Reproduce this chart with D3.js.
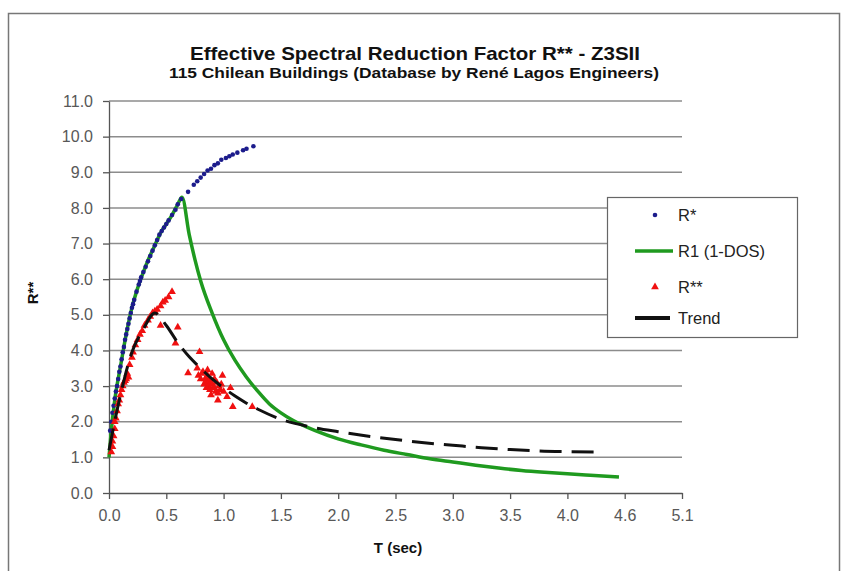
<!DOCTYPE html>
<html>
<head>
<meta charset="utf-8">
<title>Effective Spectral Reduction Factor</title>
<style>
body { margin: 0; background: #fff; font-family: "Liberation Sans", Arial, sans-serif; }
.grid line { stroke: #8c8c8c; stroke-width: 1.5px; }
.axis path, .axis line { stroke: #555; stroke-width: 1.3px; }
.axis text { fill: #585858; font-size: 16px; font-family: "Liberation Sans", Arial, sans-serif; }
</style>
</head>
<body>
<script src="https://cdn.jsdelivr.net/npm/d3@7"></script>
<script>
'use strict';

// R* (blue dots)
const rStarT = [0.01,0.02,0.03,0.04,0.05,0.06,0.07,0.08,0.09,0.10,0.11,0.12,0.13,0.14,0.15,0.16,0.17,0.18,0.19,0.20,
  0.21,0.22,0.24,0.26,0.27,0.28,0.30,0.32,0.34,0.36,0.38,0.40,0.42,0.44,0.46,0.48,0.50,0.52,0.55,0.58,
  0.60,0.63,0.69,0.74,0.77,0.80,0.83,0.86,0.89,0.92,0.95,0.98,1.02,1.05,1.08,1.12,1.17,1.20,1.26];
const rStarV = [1.75,2.0,2.25,2.45,2.65,2.85,3.0,3.2,3.4,3.55,3.75,3.95,4.1,4.3,4.45,4.6,4.75,4.9,5.05,5.2,
  5.3,5.42,5.65,5.85,5.95,6.05,6.2,6.35,6.5,6.65,6.8,6.95,7.1,7.25,7.35,7.45,7.55,7.65,7.8,7.95,
  8.1,8.25,8.45,8.65,8.75,8.85,8.95,9.05,9.1,9.2,9.25,9.35,9.4,9.45,9.5,9.55,9.62,9.66,9.73];

// R1 (1-DOS) (green line)
const r1T = [0,0.02,0.05,0.1,0.15,0.2,0.25,0.3,0.35,0.4,0.45,0.5,0.55,0.6,0.637,
  0.7,0.75,0.8,0.9,1.0,1.1,1.2,1.3,1.4,1.5,1.6,1.8,2.0,2.2,2.4,2.6,2.8,3.0,3.2,3.4,3.6,3.8,4.0,4.2,4.45];
const r1V = [1.0,1.75,2.6,3.55,4.45,5.2,5.75,6.2,6.6,6.95,7.3,7.55,7.8,8.1,8.3,
  7.25,6.55,5.95,5.05,4.3,3.72,3.25,2.85,2.5,2.25,2.05,1.75,1.52,1.35,1.2,1.08,0.96,0.87,0.78,0.7,0.63,0.58,0.54,0.5,0.45];

// R** (red triangles)
const r2T = [0.02,0.03,0.03,0.04,0.05,0.05,0.06,0.07,0.08,0.09,0.10,0.11,0.12,0.13,0.14,0.15,0.16,0.17,0.18,0.20,0.21,0.23,
  0.25,0.27,0.29,0.31,0.34,0.36,0.38,0.40,0.42,0.45,0.47,0.49,0.52,0.55,0.45,0.58,0.60,0.69,0.77,0.79,
  0.78,0.80,0.81,0.82,0.83,0.84,0.84,0.85,0.85,0.86,0.86,0.87,0.88,0.88,0.89,0.89,0.90,0.90,0.91,0.92,0.92,
  0.93,0.94,0.95,0.95,0.96,0.97,0.98,0.99,1.00,1.03,1.06,1.08,1.25];
const r2V = [1.15,1.3,1.45,1.6,1.8,2.0,2.1,2.3,2.5,2.6,2.75,2.9,3.0,3.1,3.15,3.2,3.35,3.25,3.6,3.8,3.95,4.15,
  4.3,4.45,4.55,4.7,4.85,4.95,5.05,5.1,5.15,5.25,5.35,5.4,5.5,5.65,4.7,4.2,4.65,3.37,3.5,3.96,
  3.3,3.2,3.35,3.4,3.05,3.1,3.2,3.25,2.95,3.45,3.3,3.0,3.15,2.9,3.1,2.75,3.05,3.35,2.95,3.2,2.95,
  2.85,3.1,2.6,2.8,3.0,2.9,3.05,3.3,2.85,2.7,2.95,2.42,2.42];

// Trend (black dashed)
const trendT = [0,0.1,0.2,0.3,0.4,0.5,0.6,0.7,0.8,0.9,1.0,1.1,1.2,1.3,1.5,1.75,2.0,2.25,2.5,2.75,3.0,3.25,3.5,3.75,4.0,4.3];
const trendV = [1.2,2.75,3.95,4.6,5.05,4.7,4.22,3.82,3.5,3.2,2.95,2.72,2.52,2.35,2.07,1.86,1.72,1.6,1.5,1.41,1.34,1.27,1.22,1.18,1.16,1.15];

const xTickVals = [0,0.5,1,1.5,2,2.5,3,3.5,4,4.5,5];
const xTickLabels = ['0.0','0.5','1.0','1.5','2.0','2.5','3.0','3.5','4.0','4.6','5.1'];
const yTickVals = [0,1,2,3,4,5,6,7,8,9,10,11];

const W = 853, H = 571;
const plot = {left: 109, right: 682, top: 101, bottom: 493};

const svg = d3.select('body').append('svg')
  .attr('width', W).attr('height', H);

// outer frame
svg.append('rect')
  .attr('x', 8.5).attr('y', 13.5).attr('width', 831).attr('height', 570)
  .attr('fill', '#fff').attr('stroke', '#777').attr('stroke-width', 1.5);

const x = d3.scaleLinear().domain([0, 5]).range([plot.left, plot.right]);
const y = d3.scaleLinear().domain([0, 11]).range([plot.bottom, plot.top]);

// gridlines
svg.append('g').attr('class', 'grid')
  .selectAll('line').data(yTickVals.slice(1)).enter().append('line')
  .attr('x1', plot.left).attr('x2', plot.right)
  .attr('y1', d => y(d)).attr('y2', d => y(d));

// axes
svg.append('g').attr('class', 'axis')
  .attr('transform', 'translate(0,' + plot.bottom + ')')
  .call(d3.axisBottom(x).tickValues(xTickVals).tickSize(6).tickSizeOuter(0)
    .tickFormat((d, i) => xTickLabels[i]))
  .call(g => g.selectAll('text').attr('y', 28).attr('dy', 0));

svg.append('g').attr('class', 'axis')
  .attr('transform', 'translate(' + plot.left + ',0)')
  .call(d3.axisLeft(y).tickValues(yTickVals).tickSize(6).tickSizeOuter(0)
    .tickFormat(d3.format('.1f')))
  .call(g => g.selectAll('text').attr('x', -16));

// green R1 line
const r1 = r1T.map((t, i) => [t, r1V[i]]);
const line = d3.line().x(d => x(d[0])).y(d => y(d[1])).curve(d3.curveMonotoneX);
svg.append('path').datum(r1)
  .attr('d', line).attr('fill', 'none')
  .attr('stroke', '#1f9a1f').attr('stroke-width', 3.5).attr('stroke-linejoin', 'round');

// blue R* dots
const rStar = rStarT.map((t, i) => [t, rStarV[i]]);
svg.append('g').selectAll('circle').data(rStar).enter().append('circle')
  .attr('cx', d => x(d[0])).attr('cy', d => y(d[1])).attr('r', 2.3)
  .attr('fill', '#1c1c8c');

// red R** triangles
const tri = d3.symbol().type(d3.symbolTriangle).size(26);
const r2 = r2T.map((t, i) => [t, r2V[i]]);
svg.append('g').selectAll('path').data(r2).enter().append('path')
  .attr('d', tri)
  .attr('transform', d => 'translate(' + x(d[0]) + ',' + y(d[1]) + ')')
  .attr('fill', '#f01010');

// black dashed trend
const trend = trendT.map((t, i) => [t, trendV[i]]);
svg.append('path').datum(trend)
  .attr('d', line).attr('fill', 'none')
  .attr('stroke', '#111').attr('stroke-width', 3)
  .attr('stroke-dasharray', '22,10');

// titles
svg.append('text').attr('x', 415).attr('y', 60).attr('text-anchor', 'middle')
  .attr('font-size', 18.5).attr('font-weight', 'bold').attr('fill', '#111')
  .attr('textLength', 450).attr('lengthAdjust', 'spacingAndGlyphs')
  .text('Effective Spectral Reduction Factor R** - Z3SII');
svg.append('text').attr('x', 414).attr('y', 78).attr('text-anchor', 'middle')
  .attr('font-size', 15).attr('font-weight', 'bold').attr('fill', '#111')
  .attr('textLength', 490).attr('lengthAdjust', 'spacingAndGlyphs')
  .text('115 Chilean Buildings (Database by René Lagos Engineers)');

svg.append('text').attr('x', 398).attr('y', 553).attr('text-anchor', 'middle')
  .attr('font-size', 15).attr('font-weight', 'bold').attr('fill', '#111')
  .text('T (sec)');
svg.append('text')
  .attr('transform', 'translate(38,293) rotate(-90)').attr('text-anchor', 'middle')
  .attr('font-size', 15).attr('font-weight', 'bold').attr('fill', '#111')
  .text('R**');

// legend
const lg = svg.append('g').attr('transform', 'translate(607,197)');
lg.append('rect').attr('x', 0.5).attr('y', 0.5).attr('width', 190).attr('height', 140)
  .attr('fill', '#fff').attr('stroke', '#666').attr('stroke-width', 1.2);
const items = ['R*', 'R1 (1-DOS)', 'R**', 'Trend'];
const rowY = [18, 54, 90, 121];
items.forEach((name, i) => {
  const yy = rowY[i];
  if (i === 0) lg.append('circle').attr('cx', 48).attr('cy', yy).attr('r', 2.3).attr('fill', '#1c1c8c');
  if (i === 1) lg.append('line').attr('x1', 28).attr('x2', 66).attr('y1', yy).attr('y2', yy)
    .attr('stroke', '#1f9a1f').attr('stroke-width', 3.5);
  if (i === 2) lg.append('path').attr('d', tri).attr('transform', 'translate(48,' + yy + ')').attr('fill', '#f01010');
  if (i === 3) lg.append('line').attr('x1', 28).attr('x2', 63).attr('y1', yy).attr('y2', yy)
    .attr('stroke', '#111').attr('stroke-width', 4);
  lg.append('text').attr('x', 71).attr('y', yy).attr('dy', '0.35em')
    .attr('font-size', 16.5).attr('fill', '#222').text(name);
});
</script>
</body>
</html>
